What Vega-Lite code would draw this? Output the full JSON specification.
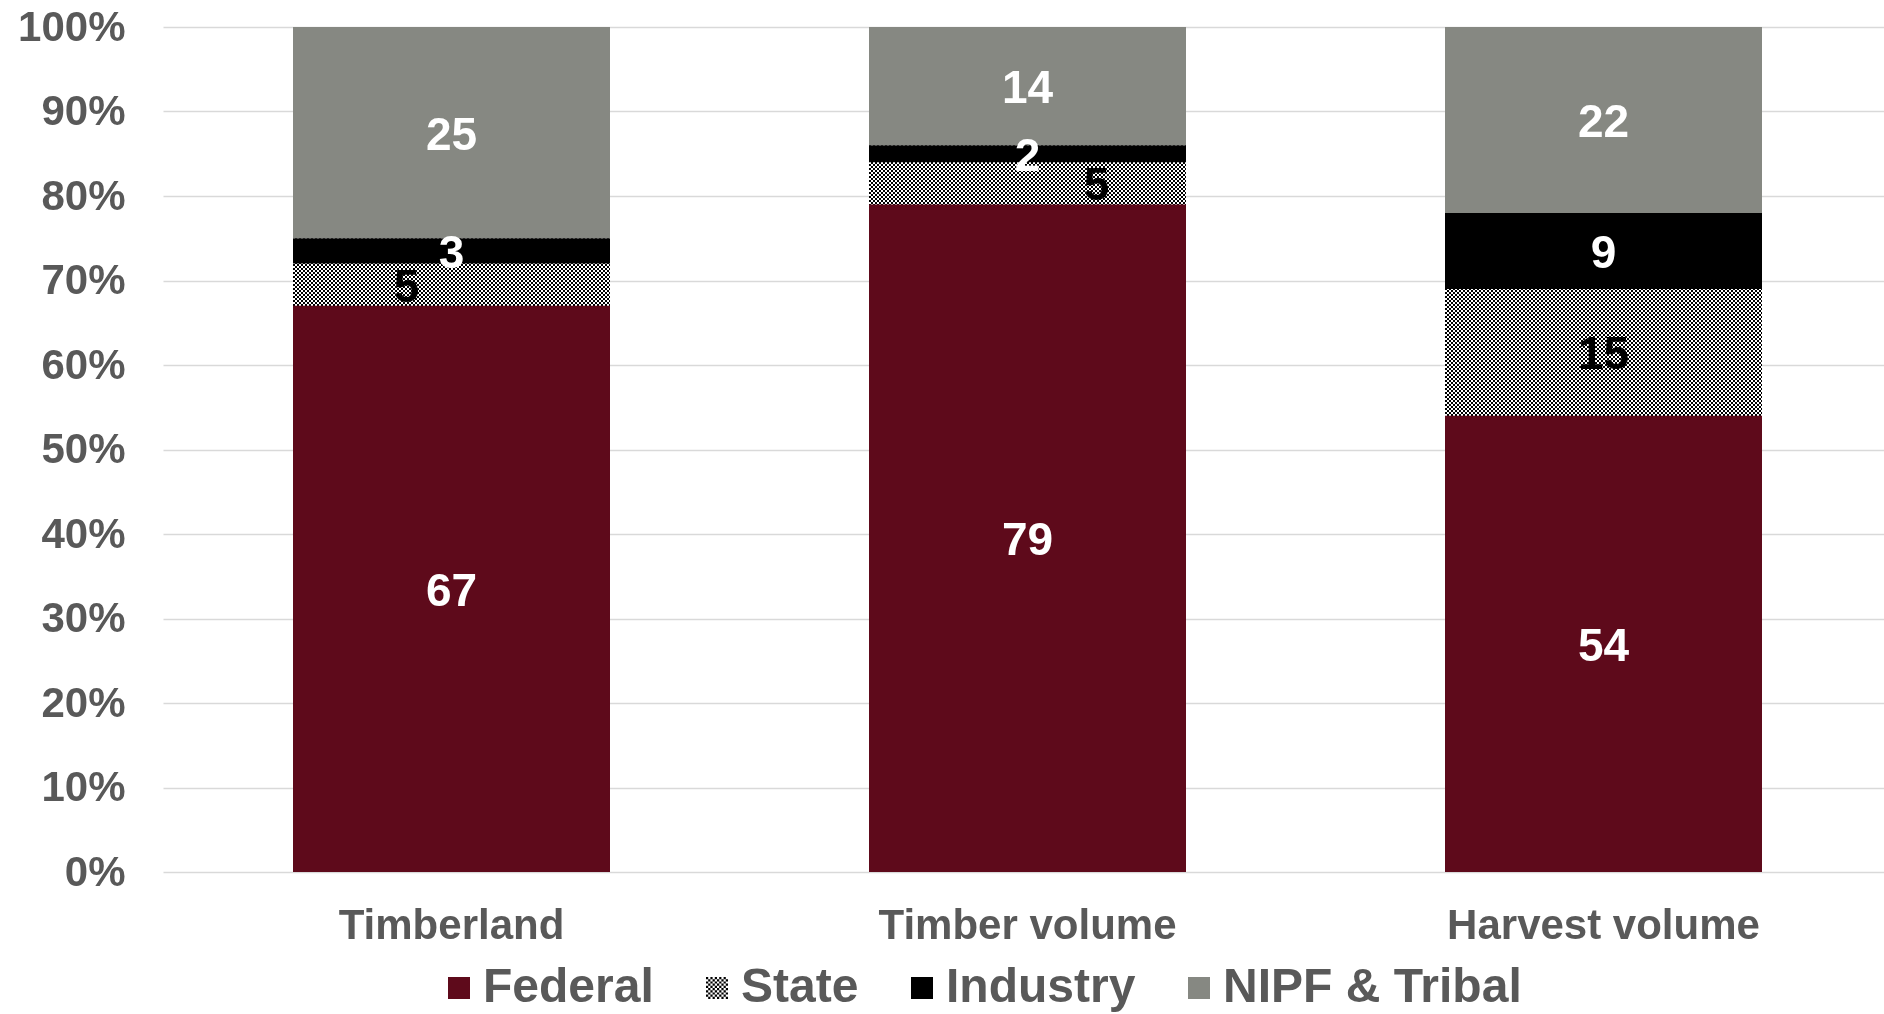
{
  "$schema": "https://vega.github.io/schema/vega-lite/v6.json",
  "width": 1728,
  "height": 845,
  "autosize": {"type": "none"},
  "padding": {"left": 163, "top": 27, "right": 0, "bottom": 142},
  "background": "white",
  "config": {
    "view": {"stroke": null},
    "font": "Liberation Sans",
    "axisY": {
      "domain": false,
      "ticks": false,
      "tickSize": 0,
      "grid": true,
      "gridColor": "#d9d9d9",
      "gridWidth": 1.5,
      "labelFont": "Liberation Sans",
      "labelFontSize": 42,
      "labelFontWeight": "bold",
      "labelColor": "#595959",
      "labelPadding": 38
    }
  },
  "data": {
    "values": [
      {"measure": "Timberland", "owner": "Federal", "share": 67},
      {"measure": "Timberland", "owner": "State", "share": 5},
      {"measure": "Timberland", "owner": "Industry", "share": 3},
      {"measure": "Timberland", "owner": "NIPF & Tribal", "share": 25},
      {"measure": "Timber volume", "owner": "Federal", "share": 79},
      {"measure": "Timber volume", "owner": "State", "share": 5},
      {"measure": "Timber volume", "owner": "Industry", "share": 2},
      {"measure": "Timber volume", "owner": "NIPF & Tribal", "share": 14},
      {"measure": "Harvest volume", "owner": "Federal", "share": 54},
      {"measure": "Harvest volume", "owner": "State", "share": 15},
      {"measure": "Harvest volume", "owner": "Industry", "share": 9},
      {"measure": "Harvest volume", "owner": "NIPF & Tribal", "share": 22}
    ]
  },
  "transform": [
    {"stack": "share", "groupby": ["measure"], "as": ["lo", "hi"]},
    {"calculate": "(datum.lo + datum.hi) / 2", "as": "mid"}
  ],
  "encoding": {
    "x": {
      "field": "measure",
      "type": "nominal",
      "sort": null,
      "scale": {"type": "band", "paddingInner": 0.45, "paddingOuter": 0.225, "round": true},
      "axis": {
        "title": null,
        "domain": false,
        "ticks": false,
        "tickSize": 0,
        "labelAngle": 0,
        "labelLimit": 0,
        "labelFont": "Liberation Sans",
        "labelFontSize": 42,
        "labelFontWeight": "bold",
        "labelColor": "#595959",
        "labelPadding": 33
      }
    }
  },
  "layer": [
    {
      "transform": [{"filter": "datum.owner === 'State'"}],
      "mark": {"type": "bar", "fill": "white"},
      "encoding": {
        "y": {"datum": 0, "type": "quantitative", "axis": {"title": null, "values": [0, 10, 20, 30, 40, 50, 60, 70, 80, 90, 100], "labelExpr": "datum.value + '%'"}},
        "y2": {"datum": 100}
      }
    },
    {
      "transform": [{"filter": "datum.owner === 'State'"}],
      "mark": {"type": "rule", "stroke": "black", "strokeWidth": 317, "strokeDash": [2, 2], "strokeCap": "butt"},
      "encoding": {
        "y": {"datum": 0, "type": "quantitative", "axis": {"title": null, "values": [0, 10, 20, 30, 40, 50, 60, 70, 80, 90, 100], "labelExpr": "datum.value + '%'"}},
        "y2": {"datum": 100}
      }
    },
    {
      "transform": [{"filter": "datum.owner === 'State'"}],
      "mark": {"type": "rule", "stroke": "white", "strokeWidth": 845, "strokeDash": [2, 2], "strokeCap": "butt", "blend": "difference"},
      "encoding": {
        "x": {"field": "measure", "type": "nominal", "sort": null, "bandPosition": 0},
        "x2": {"field": "measure", "bandPosition": 1},
        "y": {"datum": 50, "type": "quantitative", "axis": {"title": null, "values": [0, 10, 20, 30, 40, 50, 60, 70, 80, 90, 100], "labelExpr": "datum.value + '%'"}}
      }
    },
    {
      "transform": [{"filter": "datum.owner !== 'State'"}],
      "mark": {"type": "bar"},
      "encoding": {
        "y": {
          "field": "lo",
          "type": "quantitative",
          "scale": {"domain": [0, 100], "nice": false},
          "axis": {"title": null, "values": [0, 10, 20, 30, 40, 50, 60, 70, 80, 90, 100], "labelExpr": "datum.value + '%'"}
        },
        "y2": {"field": "hi"},
        "color": {
          "field": "owner",
          "type": "nominal",
          "scale": {
            "domain": ["Federal", "State", "Industry", "NIPF & Tribal"],
            "range": ["#5e0a1b", "#000000", "#000000", "#868882"]
          },
          "legend": {
            "title": null,
            "orient": "none",
            "legendX": 272,
            "legendY": 937,
            "direction": "horizontal",
            "padding": 0,
            "symbolType": "square",
            "symbolSize": 484,
            "symbolStrokeWidth": 0,
            "symbolOpacity": 1,
            "labelFont": "Liberation Sans",
            "labelFontSize": 48,
            "labelFontWeight": "bold",
            "labelColor": "#595959",
            "labelOffset": 0,
            "labelLimit": 600,
            "columnPadding": 39,
            "encode": {
              "symbols": {
                "update": {
                  "shape": [
                    {
                      "test": "datum.value === 'State'",
                      "value": "M-1,-1h0.2v0.2h-0.2zM-0.6,-1h0.2v0.2h-0.2zM-0.2,-1h0.2v0.2h-0.2zM0.2,-1h0.2v0.2h-0.2zM0.6,-1h0.2v0.2h-0.2zM-0.8,-0.8h0.2v0.2h-0.2zM-0.4,-0.8h0.2v0.2h-0.2zM0,-0.8h0.2v0.2h-0.2zM0.4,-0.8h0.2v0.2h-0.2zM0.8,-0.8h0.2v0.2h-0.2zM-1,-0.6h0.2v0.2h-0.2zM-0.6,-0.6h0.2v0.2h-0.2zM-0.2,-0.6h0.2v0.2h-0.2zM0.2,-0.6h0.2v0.2h-0.2zM0.6,-0.6h0.2v0.2h-0.2zM-0.8,-0.4h0.2v0.2h-0.2zM-0.4,-0.4h0.2v0.2h-0.2zM0,-0.4h0.2v0.2h-0.2zM0.4,-0.4h0.2v0.2h-0.2zM0.8,-0.4h0.2v0.2h-0.2zM-1,-0.2h0.2v0.2h-0.2zM-0.6,-0.2h0.2v0.2h-0.2zM-0.2,-0.2h0.2v0.2h-0.2zM0.2,-0.2h0.2v0.2h-0.2zM0.6,-0.2h0.2v0.2h-0.2zM-0.8,0h0.2v0.2h-0.2zM-0.4,0h0.2v0.2h-0.2zM0,0h0.2v0.2h-0.2zM0.4,0h0.2v0.2h-0.2zM0.8,0h0.2v0.2h-0.2zM-1,0.2h0.2v0.2h-0.2zM-0.6,0.2h0.2v0.2h-0.2zM-0.2,0.2h0.2v0.2h-0.2zM0.2,0.2h0.2v0.2h-0.2zM0.6,0.2h0.2v0.2h-0.2zM-0.8,0.4h0.2v0.2h-0.2zM-0.4,0.4h0.2v0.2h-0.2zM0,0.4h0.2v0.2h-0.2zM0.4,0.4h0.2v0.2h-0.2zM0.8,0.4h0.2v0.2h-0.2zM-1,0.6h0.2v0.2h-0.2zM-0.6,0.6h0.2v0.2h-0.2zM-0.2,0.6h0.2v0.2h-0.2zM0.2,0.6h0.2v0.2h-0.2zM0.6,0.6h0.2v0.2h-0.2zM-0.8,0.8h0.2v0.2h-0.2zM-0.4,0.8h0.2v0.2h-0.2zM0,0.8h0.2v0.2h-0.2zM0.4,0.8h0.2v0.2h-0.2zM0.8,0.8h0.2v0.2h-0.2z"
                    },
                    {"value": "square"}
                  ]
                }
              }
            }
          }
        }
      }
    },
    {
      "transform": [{"filter": "!(datum.owner === 'State' && datum.measure !== 'Harvest volume')"}],
      "mark": {"type": "text", "font": "Liberation Sans", "fontSize": 46, "fontWeight": "bold", "baseline": "middle", "align": "center", "dy": 3},
      "encoding": {
        "y": {"field": "mid", "type": "quantitative", "axis": {"title": null, "values": [0, 10, 20, 30, 40, 50, 60, 70, 80, 90, 100], "labelExpr": "datum.value + '%'"}},
        "text": {"field": "share", "type": "quantitative"},
        "color": {"condition": {"test": "datum.owner === 'State'", "value": "black"}, "value": "white"}
      }
    },
    {
      "transform": [{"filter": "datum.owner === 'State' && datum.measure === 'Timberland'"}],
      "mark": {"type": "text", "font": "Liberation Sans", "fontSize": 46, "fontWeight": "bold", "baseline": "middle", "align": "center", "dx": -45, "dy": 3, "fill": "black"},
      "encoding": {
        "y": {"field": "mid", "type": "quantitative", "axis": {"title": null, "values": [0, 10, 20, 30, 40, 50, 60, 70, 80, 90, 100], "labelExpr": "datum.value + '%'"}},
        "text": {"field": "share", "type": "quantitative"}
      }
    },
    {
      "transform": [{"filter": "datum.owner === 'State' && datum.measure === 'Timber volume'"}],
      "mark": {"type": "text", "font": "Liberation Sans", "fontSize": 46, "fontWeight": "bold", "baseline": "middle", "align": "center", "dx": 69, "dy": 3, "fill": "black"},
      "encoding": {
        "y": {"field": "mid", "type": "quantitative", "axis": {"title": null, "values": [0, 10, 20, 30, 40, 50, 60, 70, 80, 90, 100], "labelExpr": "datum.value + '%'"}},
        "text": {"field": "share", "type": "quantitative"}
      }
    }
  ]
}
